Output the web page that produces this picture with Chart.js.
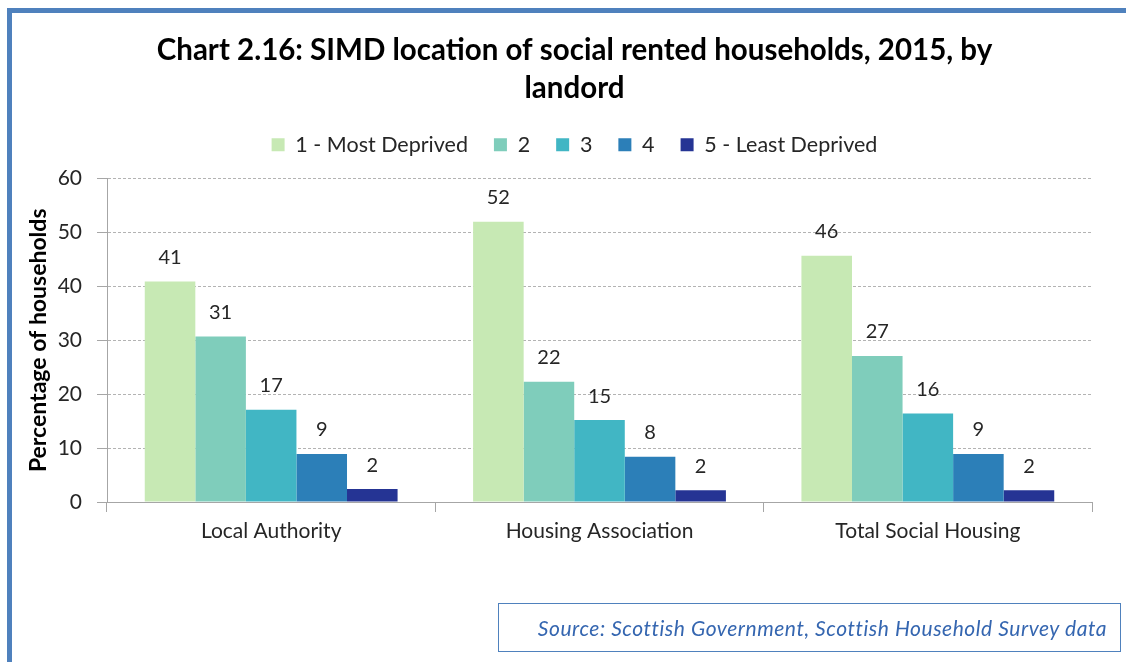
<!DOCTYPE html>
<html>
<head>
<meta charset="utf-8">
<script src="https://cdn.jsdelivr.net/npm/chart.js@4"></script>
<style>
  body { margin: 0; background: #fff; }
  #wrap { position: relative; width: 1126px; height: 662px; overflow: hidden; }
  #frame { position: absolute; left: 7px; top: 8px; width: 1200px; height: 700px;
           border-left: 5px solid #4F81BD; border-top: 5px solid #4F81BD; pointer-events: none; }
  #source { position: absolute; left: 498px; top: 603px; width: 623px; height: 49px;
            border: 1px solid #4F81BD; font-family: Lato, sans-serif; font-style: italic;
            font-size: 21px; letter-spacing: 0.55px; color: #3566B0; text-align: right;
            line-height: 47px; padding-right: 13px; box-sizing: border-box; white-space: nowrap; }
</style>
</head>
<body>
<div id="wrap">
  <canvas id="chart" width="1126" height="662"></canvas>
  <div id="frame"></div>
  <div id="source">Source: Scottish Government, Scottish Household Survey data</div>
</div>
<script>
const categories = ["Local Authority", "Housing Association", "Total Social Housing"];
const seriesNames = ["1 - Most Deprived", "2", "3", "4", "5 - Least Deprived"];
const mostDeprived = [40.9, 52.0, 45.7];
const quintile2 = [30.7, 22.3, 27.1];
const quintile3 = [17.1, 15.2, 16.4];
const quintile4 = [8.9, 8.4, 8.9];
const leastDeprived = [2.4, 2.2, 2.2];
const yTicks = [0, 10, 20, 30, 40, 50, 60];
const colours = ["#C7E9B4", "#7FCDBB", "#41B6C4", "#2C7FB8", "#253494"];

const fontFamily = "Lato, 'Open Sans', sans-serif";
const textColour = "#262626";
const gridColour = "#A6A6A6";

// values printed on top of each bar (rounded like the original)
const barLabels = {
  id: "barLabels",
  afterDatasetsDraw(chart) {
    const ctx = chart.ctx;
    ctx.save();
    ctx.font = "20px " + fontFamily;
    ctx.fillStyle = textColour;
    ctx.textAlign = "center";
    ctx.textBaseline = "middle";
    chart.data.datasets.forEach((ds, i) => {
      chart.getDatasetMeta(i).data.forEach((bar, j) => {
        ctx.fillText(Math.round(ds.data[j]), bar.x, bar.y - 24);
      });
    });
    ctx.restore();
  }
};

// more room under the legend, and title/legend nudged right like the original
const headerTweaks = {
  id: "headerTweaks",
  beforeInit(chart) {
    const legend = chart.legend;
    const fit = legend.fit;
    legend.fit = function () {
      fit.call(this);
      this.height += 13;
    };
  },
  afterLayout(chart) {
    const d = 21;
    [chart.titleBlock, chart.legend].forEach(b => {
      if (b) { b.left += d; b.right += d; }
    });
  }
};

const allSeries = [mostDeprived, quintile2, quintile3, quintile4, leastDeprived];

new Chart("chart", {
  type: "bar",
  data: {
    labels: categories,
    datasets: allSeries.map((vals, i) => ({
      label: seriesNames[i],
      data: vals,
      backgroundColor: colours[i],
      categoryPercentage: 0.77,
      barPercentage: 1.0
    }))
  },
  options: {
    responsive: false,
    animation: false,
    layout: { padding: { left: 15, right: 34, top: 0, bottom: 100 } },
    plugins: {
      tooltip: { enabled: false },
      title: {
        display: true,
        text: ["Chart 2.16: SIMD location of social rented households, 2015, by", "landord"],
        color: "#000",
        font: { family: fontFamily, size: 29.5, weight: "bold", lineHeight: 1.29 },
        padding: { top: 31, bottom: 1 }
      },
      legend: {
        position: "top",
        labels: {
          boxWidth: 13,
          boxHeight: 13,
          padding: 26,
          color: textColour,
          font: { family: fontFamily, size: 21.5 }
        }
      }
    },
    scales: {
      x: {
        afterFit(scale) { scale.height = 60; },
        grid: {
          display: true,
          drawOnChartArea: false,
          drawTicks: true,
          tickLength: 10,
          color: gridColour,
          offset: true
        },
        border: { color: gridColour, width: 1 },
        ticks: { color: textColour, padding: 7, font: { family: fontFamily, size: 21 } }
      },
      y: {
        min: 0,
        max: 60,
        afterFit(scale) { scale.width = 92; },
        afterBuildTicks(scale) { scale.ticks = yTicks.map(v => ({ value: v })); },
        grid: {
          color: ctx => ctx.tick && ctx.tick.value === 0 ? "rgba(0,0,0,0)" : "#B3B3B3",
          tickColor: gridColour,
          tickLength: 10,
          lineWidth: 1
        },
        border: { color: gridColour, width: 1, dash: [3, 2] },
        ticks: { color: textColour, padding: 15, font: { family: fontFamily, size: 21 } },
        title: {
          display: true,
          text: "Percentage of households",
          color: "#000",
          padding: { top: 10 },
          font: { family: fontFamily, size: 23, weight: "bold" }
        }
      }
    }
  },
  plugins: [barLabels, headerTweaks]
});
</script>
</body>
</html>
